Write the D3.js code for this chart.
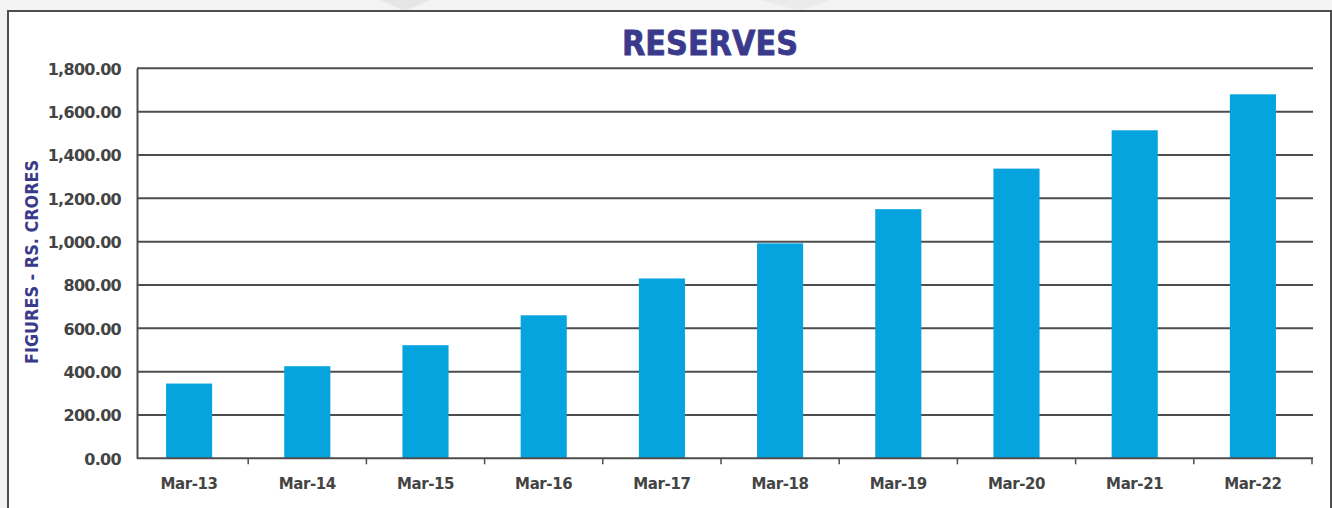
<!DOCTYPE html>
<html>
<head>
<meta charset="utf-8">
<script src="https://cdn.jsdelivr.net/npm/d3@7"></script>
<style>
  html, body { margin: 0; padding: 0; background: #ffffff; }
  svg { display: block; }
</style>
</head>
<body>
<svg id="chart" width="1332" height="508"></svg>
<script>
const categories = ["Mar-13","Mar-14","Mar-15","Mar-16","Mar-17","Mar-18","Mar-19","Mar-20","Mar-21","Mar-22"];
const reserves = [345, 425, 522, 660, 830, 992, 1150, 1337, 1514, 1680];
const yTicks = [0, 200, 400, 600, 800, 1000, 1200, 1400, 1600, 1800];
const titleText = "RESERVES";
const yLabel = "FIGURES - RS. CRORES";

const svg = d3.select("#chart");
const W = 1332, H = 508;

// slide background strip and frame
svg.append("rect").attr("x", 0).attr("y", 0).attr("width", W).attr("height", H).attr("fill", "#f3f3f3");
svg.append("polygon").attr("points", "380,0 430,0 405,11").attr("fill", "#e6e6e6");
svg.append("polygon").attr("points", "760,0 830,0 800,11").attr("fill", "#ebebeb");
svg.append("rect").attr("x", 8).attr("y", 11).attr("width", 1323).attr("height", 510)
  .attr("fill", "#ffffff").attr("stroke", "#4d4d4d").attr("stroke-width", 2);

const x = d3.scaleBand().domain(categories).range([130, 1312]).paddingInner(0.61).paddingOuter(0.305);
const y = d3.scaleLinear().domain([0, 1800]).range([458.3, 68.3]);
const gridLeft = 137, gridRight = 1313;

// gridlines
svg.append("g").selectAll("line").data(yTicks.filter(d => d > 0)).join("line")
  .attr("x1", gridLeft).attr("x2", gridRight)
  .attr("y1", d => y(d)).attr("y2", d => y(d))
  .attr("stroke", "#4d4d4d").attr("stroke-width", 2);

// bars
svg.append("g").selectAll("rect").data(reserves).join("rect")
  .attr("x", (d, i) => x(categories[i]))
  .attr("width", x.bandwidth())
  .attr("y", d => y(d))
  .attr("height", d => y(0) - y(d))
  .attr("fill", "#05a4de");

// y axis
const yAxis = d3.axisLeft(y).tickValues(yTicks).tickSize(0).tickPadding(16)
  .tickFormat(d3.format(",.2f"));
const gy = svg.append("g").attr("transform", `translate(${gridLeft},0)`).call(yAxis);
gy.select(".domain").attr("stroke", "#4d4d4d").attr("stroke-width", 2);
gy.selectAll("text").attr("font-family", "DejaVu Sans, sans-serif").attr("font-weight", "bold")
  .attr("font-size", 16).attr("letter-spacing", -0.7).attr("fill", "#444444").attr("dy", "0.36em");

// x axis baseline with ticks at band boundaries
const step = x.step();
const x0 = x.range()[0];
svg.append("line").attr("x1", gridLeft).attr("x2", gridRight)
  .attr("y1", y(0)).attr("y2", y(0)).attr("stroke", "#4d4d4d").attr("stroke-width", 2);
svg.append("g").selectAll("line").data(d3.range(1, categories.length + 1)).join("line")
  .attr("x1", i => x0 + i * step).attr("x2", i => x0 + i * step)
  .attr("y1", y(0)).attr("y2", y(0) + 6)
  .attr("stroke", "#4d4d4d").attr("stroke-width", 1.5);

svg.append("g").selectAll("text").data(categories).join("text")
  .attr("x", d => x(d) + x.bandwidth() / 2)
  .attr("y", 489)
  .attr("text-anchor", "middle")
  .attr("font-family", "DejaVu Sans, sans-serif").attr("font-weight", "bold")
  .attr("font-size", 15).attr("letter-spacing", -0.4).attr("fill", "#444444")
  .text(d => d);

// title
svg.append("text").attr("x", 710).attr("y", 55).attr("text-anchor", "middle")
  .attr("font-family", "DejaVu Sans, sans-serif").attr("font-weight", "bold")
  .attr("font-size", 34).attr("fill", "#3a3a8c")
  .attr("stroke", "#3a3a8c").attr("stroke-width", 0.8)
  .attr("textLength", 176).attr("lengthAdjust", "spacingAndGlyphs")
  .text(titleText);

// y label
svg.append("text").attr("transform", "translate(38,262) rotate(-90)")
  .attr("text-anchor", "middle")
  .attr("font-family", "DejaVu Sans, sans-serif").attr("font-weight", "bold")
  .attr("font-size", 17).attr("fill", "#3a3a8c")
  .attr("textLength", 204).attr("lengthAdjust", "spacingAndGlyphs")
  .text(yLabel);
</script>
</body>
</html>
